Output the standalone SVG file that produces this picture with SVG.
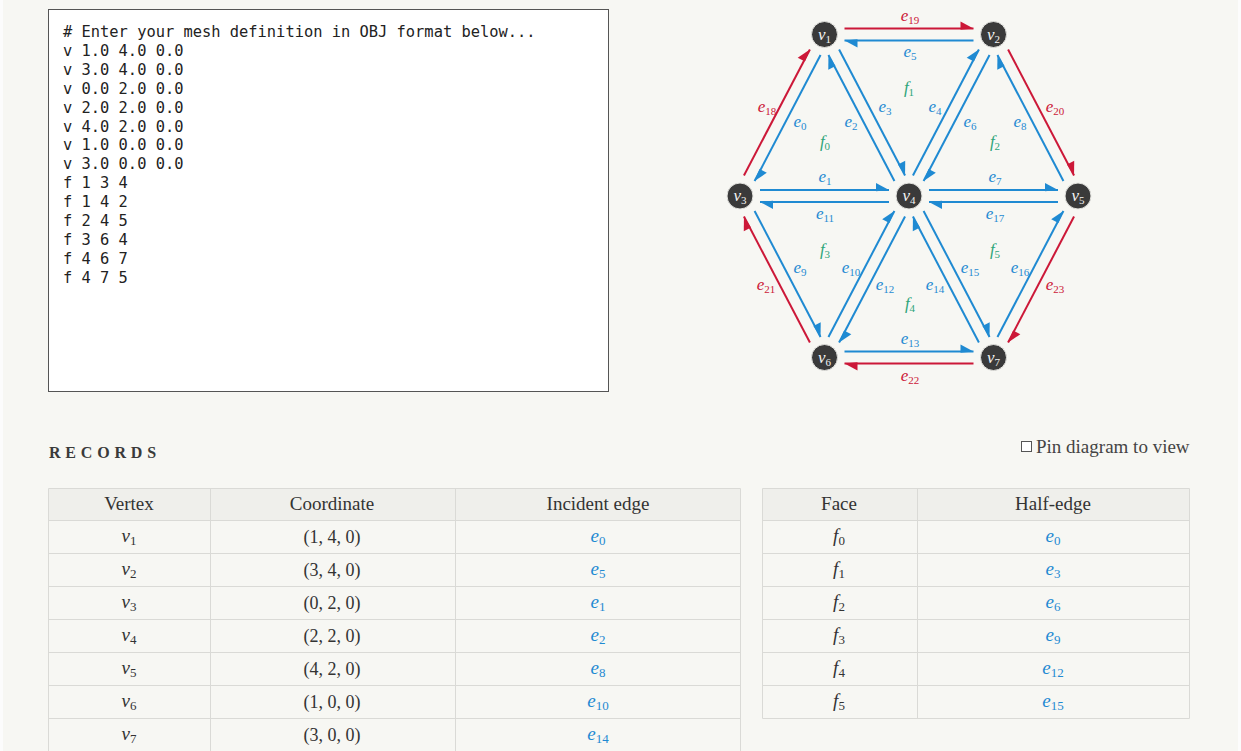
<svg xmlns="http://www.w3.org/2000/svg" width="1241" height="751" viewBox="0 0 1241 751">
  <style>
    .mono { font-family: "DejaVu Sans Mono", "Liberation Mono", monospace; font-size: 15.4px; fill: #222; }
    .he { stroke-width: 2; fill: none; }
    .blue { stroke: #1f8ad2; }
    .red { stroke: #cc1838; }
    .lbl { font-family: "Liberation Serif", serif; font-style: italic; font-size: 17px; text-anchor: middle; }
    .lb { fill: #1f8ad2; }
    .lr { fill: #cc1838; }
    .lg { fill: #2ea57a; }
    .sub { font-size: 11px; font-style: normal; }
    .tsub { font-size: 13px; font-style: normal; }
    .node circle { fill: #3a3a3a; stroke: #e4e4e0; stroke-width: 1; }
    .node text { font-family: "Liberation Serif", serif; font-style: italic; font-size: 17px; fill: #f4f4f4; text-anchor: middle; }
    .hdr { font-family: "Liberation Serif", serif; font-size: 19px; fill: #333; text-anchor: middle; }
    .cell { font-family: "Liberation Serif", serif; font-size: 18px; fill: #333; text-anchor: middle; }
    .math { font-family: "Liberation Serif", serif; font-style: italic; font-size: 19px; fill: #333; text-anchor: middle; }
    .link { font-family: "Liberation Serif", serif; font-style: italic; font-size: 19px; fill: #1f8ad2; text-anchor: middle; }
    .grid { stroke: #dadad6; stroke-width: 1; fill: none; }
  </style>
  <defs>
    <!-- half arrowheads: barb on the outer side of each half-edge -->
    <marker id="hb" markerUnits="userSpaceOnUse" markerWidth="16" markerHeight="16" refX="0" refY="0" orient="auto" viewBox="-14 -8 16 16" overflow="visible">
      <path d="M0,0 L-13,-7 L-13,1.2 Z" fill="#1f8ad2"/>
    </marker>
    <marker id="hr" markerUnits="userSpaceOnUse" markerWidth="16" markerHeight="16" refX="0" refY="0" orient="auto" viewBox="-14 -8 16 16" overflow="visible">
      <path d="M0,0 L-13,-7 L-13,1.2 Z" fill="#cc1838"/>
    </marker>
  </defs>

  <!-- page -->
  <rect x="0" y="0" width="1241" height="751" fill="#f7f7f3"/>
  <rect x="0" y="0" width="3" height="751" fill="#fcfcfc"/>
  <rect x="1238" y="0" width="3" height="751" fill="#fcfcfc"/>

  <!-- OBJ editor -->
  <g id="editor">
    <rect x="48.5" y="9.5" width="560" height="382" fill="#ffffff" stroke="#555" stroke-width="1"/>
    <text class="mono" x="63" y="37">
      <tspan x="63" y="37"># Enter your mesh definition in OBJ format below...</tspan>
      <tspan x="63" y="55.9">v 1.0 4.0 0.0</tspan>
      <tspan x="63" y="74.8">v 3.0 4.0 0.0</tspan>
      <tspan x="63" y="93.7">v 0.0 2.0 0.0</tspan>
      <tspan x="63" y="112.6">v 2.0 2.0 0.0</tspan>
      <tspan x="63" y="131.5">v 4.0 2.0 0.0</tspan>
      <tspan x="63" y="150.4">v 1.0 0.0 0.0</tspan>
      <tspan x="63" y="169.3">v 3.0 0.0 0.0</tspan>
      <tspan x="63" y="188.2">f 1 3 4</tspan>
      <tspan x="63" y="207.1">f 1 4 2</tspan>
      <tspan x="63" y="226">f 2 4 5</tspan>
      <tspan x="63" y="244.9">f 3 6 4</tspan>
      <tspan x="63" y="263.8">f 4 6 7</tspan>
      <tspan x="63" y="282.7">f 4 7 5</tspan>
    </text>
  </g>

  <!-- half-edges -->
  <g id="connectors">
    <line class="he red"  x1="844.5" y1="28.5" x2="973.5" y2="28.5" marker-end="url(#hr)"/>
    <line class="he blue" x1="973.5" y1="40.5" x2="844.5" y2="40.5" marker-end="url(#hb)"/>
    <line class="he blue" x1="760" y1="190" x2="889" y2="190" marker-end="url(#hb)"/>
    <line class="he blue" x1="889" y1="202" x2="760" y2="202" marker-end="url(#hb)"/>
    <line class="he blue" x1="929" y1="190" x2="1058" y2="190" marker-end="url(#hb)"/>
    <line class="he blue" x1="1058" y1="202" x2="929" y2="202" marker-end="url(#hb)"/>
    <line class="he blue" x1="844.5" y1="351.5" x2="973.5" y2="351.5" marker-end="url(#hb)"/>
    <line class="he red"  x1="973.5" y1="363.5" x2="844.5" y2="363.5" marker-end="url(#hr)"/>

    <line class="he red"  x1="743.955" y1="175.496" x2="809.911" y2="49.44" marker-end="url(#hr)"/>
    <line class="he blue" x1="820.545" y1="55.004" x2="754.589" y2="181.06" marker-end="url(#hb)"/>
    <line class="he blue" x1="912.955" y1="175.496" x2="978.911" y2="49.44" marker-end="url(#hb)"/>
    <line class="he blue" x1="989.545" y1="55.004" x2="923.589" y2="181.06" marker-end="url(#hb)"/>
    <line class="he blue" x1="828.455" y1="336.996" x2="894.411" y2="210.94" marker-end="url(#hb)"/>
    <line class="he blue" x1="905.045" y1="216.504" x2="839.089" y2="342.56" marker-end="url(#hb)"/>
    <line class="he blue" x1="997.455" y1="336.996" x2="1063.411" y2="210.94" marker-end="url(#hb)"/>
    <line class="he red"  x1="1074.045" y1="216.504" x2="1008.089" y2="342.56" marker-end="url(#hr)"/>

    <line class="he blue" x1="839.089" y1="49.44" x2="905.045" y2="175.496" marker-end="url(#hb)"/>
    <line class="he blue" x1="894.411" y1="181.06" x2="828.455" y2="55.004" marker-end="url(#hb)"/>
    <line class="he red"  x1="1008.089" y1="49.44" x2="1074.045" y2="175.496" marker-end="url(#hr)"/>
    <line class="he blue" x1="1063.411" y1="181.06" x2="997.455" y2="55.004" marker-end="url(#hb)"/>
    <line class="he blue" x1="754.589" y1="210.94" x2="820.545" y2="336.996" marker-end="url(#hb)"/>
    <line class="he red"  x1="809.911" y1="342.56" x2="743.955" y2="216.504" marker-end="url(#hr)"/>
    <line class="he blue" x1="923.589" y1="210.94" x2="989.545" y2="336.996" marker-end="url(#hb)"/>
    <line class="he blue" x1="978.911" y1="342.56" x2="912.955" y2="216.504" marker-end="url(#hb)"/>
  </g>

  <!-- half-edge and face labels -->
  <g id="labels">
    <text class="lbl lr" x="910" y="21">e<tspan class="sub" dy="3">19</tspan></text>
    <text class="lbl lb" x="910" y="57">e<tspan class="sub" dy="3">5</tspan></text>
    <text class="lbl lg" x="909" y="93">f<tspan class="sub" dy="3">1</tspan></text>
    <text class="lbl lr" x="767" y="112">e<tspan class="sub" dy="3">18</tspan></text>
    <text class="lbl lb" x="800" y="127">e<tspan class="sub" dy="3">0</tspan></text>
    <text class="lbl lb" x="851" y="127">e<tspan class="sub" dy="3">2</tspan></text>
    <text class="lbl lg" x="825" y="147">f<tspan class="sub" dy="3">0</tspan></text>
    <text class="lbl lb" x="885" y="112">e<tspan class="sub" dy="3">3</tspan></text>
    <text class="lbl lb" x="825" y="182">e<tspan class="sub" dy="3">1</tspan></text>
    <text class="lbl lb" x="935" y="112">e<tspan class="sub" dy="3">4</tspan></text>
    <text class="lbl lb" x="970" y="127">e<tspan class="sub" dy="3">6</tspan></text>
    <text class="lbl lb" x="1020" y="127">e<tspan class="sub" dy="3">8</tspan></text>
    <text class="lbl lg" x="995" y="147">f<tspan class="sub" dy="3">2</tspan></text>
    <text class="lbl lr" x="1055" y="112">e<tspan class="sub" dy="3">20</tspan></text>
    <text class="lbl lb" x="995" y="182">e<tspan class="sub" dy="3">7</tspan></text>
    <text class="lbl lb" x="825" y="219">e<tspan class="sub" dy="3">11</tspan></text>
    <text class="lbl lg" x="825" y="255">f<tspan class="sub" dy="3">3</tspan></text>
    <text class="lbl lb" x="800" y="273">e<tspan class="sub" dy="3">9</tspan></text>
    <text class="lbl lb" x="851" y="273">e<tspan class="sub" dy="3">10</tspan></text>
    <text class="lbl lr" x="766" y="290">e<tspan class="sub" dy="3">21</tspan></text>
    <text class="lbl lb" x="885" y="290">e<tspan class="sub" dy="3">12</tspan></text>
    <text class="lbl lg" x="910" y="309">f<tspan class="sub" dy="3">4</tspan></text>
    <text class="lbl lb" x="910" y="344">e<tspan class="sub" dy="3">13</tspan></text>
    <text class="lbl lr" x="910" y="381">e<tspan class="sub" dy="3">22</tspan></text>
    <text class="lbl lb" x="995" y="219">e<tspan class="sub" dy="3">17</tspan></text>
    <text class="lbl lg" x="995" y="255">f<tspan class="sub" dy="3">5</tspan></text>
    <text class="lbl lb" x="970" y="273">e<tspan class="sub" dy="3">15</tspan></text>
    <text class="lbl lb" x="1020" y="273">e<tspan class="sub" dy="3">16</tspan></text>
    <text class="lbl lb" x="935" y="290">e<tspan class="sub" dy="3">14</tspan></text>
    <text class="lbl lr" x="1055" y="290">e<tspan class="sub" dy="3">23</tspan></text>
  </g>

  <!-- vertices -->
  <g id="v1" class="node"><circle cx="824.5" cy="34.5" r="13"/><text x="824.5" y="39.5">v<tspan class="sub" dy="3">1</tspan></text></g>
  <g id="v2" class="node"><circle cx="993.5" cy="34.5" r="13"/><text x="993.5" y="39.5">v<tspan class="sub" dy="3">2</tspan></text></g>
  <g id="v3" class="node"><circle cx="740" cy="196" r="13"/><text x="740" y="201">v<tspan class="sub" dy="3">3</tspan></text></g>
  <g id="v4" class="node"><circle cx="909" cy="196" r="13"/><text x="909" y="201">v<tspan class="sub" dy="3">4</tspan></text></g>
  <g id="v5" class="node"><circle cx="1078" cy="196" r="13"/><text x="1078" y="201">v<tspan class="sub" dy="3">5</tspan></text></g>
  <g id="v6" class="node"><circle cx="824.5" cy="357.5" r="13"/><text x="824.5" y="362.5">v<tspan class="sub" dy="3">6</tspan></text></g>
  <g id="v7" class="node"><circle cx="993.5" cy="357.5" r="13"/><text x="993.5" y="362.5">v<tspan class="sub" dy="3">7</tspan></text></g>

  <!-- records heading and pin toggle -->
  <text x="49" y="458" font-family="Liberation Serif, serif" font-weight="bold" font-size="16" letter-spacing="4.8" fill="#3a3a3a">RECORDS</text>
  <g id="pin">
    <rect x="1021.5" y="441.5" width="10" height="10" fill="#ffffff" stroke="#555" stroke-width="1"/>
    <text x="1036" y="453" font-family="Liberation Serif, serif" font-size="19" fill="#444">Pin diagram to view</text>
  </g>

  <!-- vertex table -->
  <g id="vertex-table">
    <rect x="48.5" y="488.5" width="692" height="32" fill="#efefeb"/>
    <path class="grid" d="M48.5,751 V488.5 H740.5 V751 M210.5,488.5 V751 M455.5,488.5 V751 M48.5,520.5 H740.5 M48.5,553.5 H740.5 M48.5,586.5 H740.5 M48.5,619.5 H740.5 M48.5,652.5 H740.5 M48.5,685.5 H740.5 M48.5,718.5 H740.5"/>
    <text class="hdr" x="129" y="510">Vertex</text>
    <text class="hdr" x="332" y="510">Coordinate</text>
    <text class="hdr" x="598" y="510">Incident edge</text>

    <text class="math" x="129" y="542">v<tspan class="tsub" dy="3">1</tspan></text>
    <text class="math" x="129" y="575">v<tspan class="tsub" dy="3">2</tspan></text>
    <text class="math" x="129" y="608">v<tspan class="tsub" dy="3">3</tspan></text>
    <text class="math" x="129" y="641">v<tspan class="tsub" dy="3">4</tspan></text>
    <text class="math" x="129" y="674">v<tspan class="tsub" dy="3">5</tspan></text>
    <text class="math" x="129" y="707">v<tspan class="tsub" dy="3">6</tspan></text>
    <text class="math" x="129" y="740">v<tspan class="tsub" dy="3">7</tspan></text>

    <text class="cell" x="332" y="543">(1, 4, 0)</text>
    <text class="cell" x="332" y="576">(3, 4, 0)</text>
    <text class="cell" x="332" y="609">(0, 2, 0)</text>
    <text class="cell" x="332" y="642">(2, 2, 0)</text>
    <text class="cell" x="332" y="675">(4, 2, 0)</text>
    <text class="cell" x="332" y="708">(1, 0, 0)</text>
    <text class="cell" x="332" y="741">(3, 0, 0)</text>

    <text class="link" x="598" y="542">e<tspan class="tsub" dy="3">0</tspan></text>
    <text class="link" x="598" y="575">e<tspan class="tsub" dy="3">5</tspan></text>
    <text class="link" x="598" y="608">e<tspan class="tsub" dy="3">1</tspan></text>
    <text class="link" x="598" y="641">e<tspan class="tsub" dy="3">2</tspan></text>
    <text class="link" x="598" y="674">e<tspan class="tsub" dy="3">8</tspan></text>
    <text class="link" x="598" y="707">e<tspan class="tsub" dy="3">10</tspan></text>
    <text class="link" x="598" y="740">e<tspan class="tsub" dy="3">14</tspan></text>
  </g>

  <!-- face table -->
  <g id="face-table">
    <rect x="762.5" y="488.5" width="427" height="32" fill="#efefeb"/>
    <path class="grid" d="M762.5,718.5 V488.5 H1189.5 V718.5 Z M917.5,488.5 V718.5 M762.5,520.5 H1189.5 M762.5,553.5 H1189.5 M762.5,586.5 H1189.5 M762.5,619.5 H1189.5 M762.5,652.5 H1189.5 M762.5,685.5 H1189.5"/>
    <text class="hdr" x="839" y="510">Face</text>
    <text class="hdr" x="1053" y="510">Half-edge</text>

    <text class="math" x="839" y="542">f<tspan class="tsub" dy="3">0</tspan></text>
    <text class="math" x="839" y="575">f<tspan class="tsub" dy="3">1</tspan></text>
    <text class="math" x="839" y="608">f<tspan class="tsub" dy="3">2</tspan></text>
    <text class="math" x="839" y="641">f<tspan class="tsub" dy="3">3</tspan></text>
    <text class="math" x="839" y="674">f<tspan class="tsub" dy="3">4</tspan></text>
    <text class="math" x="839" y="707">f<tspan class="tsub" dy="3">5</tspan></text>

    <text class="link" x="1053" y="542">e<tspan class="tsub" dy="3">0</tspan></text>
    <text class="link" x="1053" y="575">e<tspan class="tsub" dy="3">3</tspan></text>
    <text class="link" x="1053" y="608">e<tspan class="tsub" dy="3">6</tspan></text>
    <text class="link" x="1053" y="641">e<tspan class="tsub" dy="3">9</tspan></text>
    <text class="link" x="1053" y="674">e<tspan class="tsub" dy="3">12</tspan></text>
    <text class="link" x="1053" y="707">e<tspan class="tsub" dy="3">15</tspan></text>
  </g>
</svg>
